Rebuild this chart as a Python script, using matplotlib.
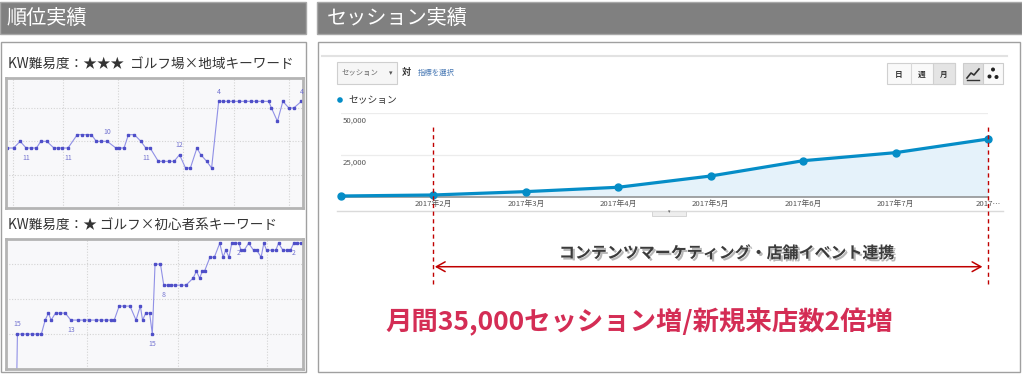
import matplotlib.pyplot as plt
from matplotlib.patches import Rectangle, Circle
import matplotlib.patheffects as pe

plt.rcParams['font.family'] = ['Noto Sans CJK JP', 'DejaVu Sans']

W, H = 1022, 375

# ---- 順位実績 (rank history, smaller rank = better) ----
kw1_title = 'KW難易度：★★★  ゴルフ場×地域キーワード'
kw1_days = [0.1, 1.4, 2.6, 3.7, 4.6, 5.6, 6.4, 7.5, 8.8, 9.5, 10.3, 11.4,
            13.1, 14.0, 14.8, 15.7, 16.6, 17.5, 18.6, 20.2, 20.8, 21.7, 22.5,
            23.6, 24.8, 25.7, 26.5, 28.0, 28.8, 29.9, 30.9, 31.9, 33.0, 33.9,
            35.1, 35.8, 36.9, 37.8, 39.1, 39.9, 40.9, 41.8, 42.8, 43.9, 45.0,
            45.9, 47.0, 48.3, 48.8, 49.9, 50.9, 52.0, 52.9, 54.3]
kw1_rank = [11, 11, 10, 11, 11, 11, 10, 10, 11, 11, 11, 11,
            9, 9, 9, 9, 10, 10, 10, 11, 11, 11, 9,
            9, 10, 11, 11, 13, 13, 13, 13, 12, 14, 14,
            11, 12, 13, 14, 4, 4, 4, 4, 4, 4, 4,
            4, 4, 4, 5, 7, 4, 5, 5, 4]
kw1_label_idx = [3, 11, 18, 25, 31, 38, 53]
kw1_label_above = [False, False, True, False, True, True, True]
kw1_vgrid = [1.3, 10.4, 20.6, 32.6, 41.9, 52.0]

kw2_title = 'KW難易度：★ ゴルフ×初心者系キーワード'
kw2_days = [1.9, 2.1, 2.9, 3.8, 4.8, 5.7, 6.5, 7.2, 7.8, 8.3, 9.1, 10.0,
            10.9, 11.9, 13.2, 14.3, 15.2, 16.5, 17.4, 18.3, 19.3, 19.9, 20.8,
            21.7, 22.8, 23.9, 24.7, 25.1, 25.7, 26.4, 26.9, 27.4, 28.4, 29.0,
            29.8, 30.4, 31.0, 32.2, 33.1, 34.4, 35.0, 35.6, 36.1, 36.5, 37.5,
            38.3, 39.3, 39.9, 40.4, 41.0, 41.5, 42.1, 42.8, 43.2, 43.8, 44.6,
            45.5, 46.1, 46.9, 47.4, 47.9, 48.9, 49.6, 50.1, 50.9, 51.7, 52.3,
            52.9, 53.5, 54.3]
kw2_rank = [25, 15, 15, 15, 15, 15, 15, 13, 12, 13, 12, 12,
            12, 13, 13, 13, 13, 13, 13, 13, 13, 13, 11,
            11, 11, 13, 11, 13, 12, 12, 15, 5, 5, 8,
            8, 8, 8, 8, 8, 7, 6, 7, 6, 6, 4,
            4, 2, 4, 3, 4, 2, 2, 2, 3, 3, 2,
            3, 3, 4, 2, 3, 3, 3, 2, 3, 3, 3,
            2, 2, 2]
kw2_label_idx = [1, 13, 30, 33, 52, 67]
kw2_label_above = [True, False, False, False, False, False]
kw2_vgrid = [14.8, 31.6, 48.0]

rank_grid = [5, 10, 15]

# ---- セッション実績 (monthly sessions, 2017) ----
months = [1, 2, 3, 4, 5, 6, 7, 8]
sessions = [600, 1200, 3200, 5800, 12500, 21600, 26400, 34500]
month_labels = ['2017年2月', '2017年3月', '2017年4月', '2017年5月',
                '2017年6月', '2017年7月', '2017…']
session_ticks = [25000, 50000]
event_start, event_end = 2, 8

fig = plt.figure(figsize=(W / 100, H / 100), dpi=100)


def px_axes(x0, y0, x1, y1, **kw):
    return fig.add_axes([x0 / W, 1 - y1 / H, (x1 - x0) / W, (y1 - y0) / H], **kw)


bg = px_axes(0, 0, W, H)
bg.set_xlim(0, W)
bg.set_ylim(H, 0)
bg.axis('off')

# header bars and panels
for x0, x1, tx, title in [(0, 306, 6, '順位実績'), (317, 1022, 10, 'セッション実績')]:
    bg.add_patch(Rectangle((x0, 1.5), x1 - x0, 32.5, fc='#808080', ec='#a8a8a8', lw=1))
    bg.text(x0 + tx, 18, title, color='white', fontsize=14.5, va='center')
bg.add_patch(Rectangle((0.5, 42), 305, 330, fc='white', ec='#a0a0a0', lw=1))
bg.add_patch(Rectangle((317.5, 42), 702, 330, fc='white', ec='#a0a0a0', lw=1))

bg.text(8, 64, kw1_title, fontsize=9.8, color='#333333', va='center')
bg.text(8, 225, kw2_title, fontsize=9.8, color='#333333', va='center')


def rank_chart(ax, days, rank, lab_idx, lab_above, vgrid, ylim):
    ax.set_facecolor('#f8f8fa')
    ax.plot(days, rank, color='#9090e6', lw=0.8, marker='s', ms=1.9,
            mfc='#4f4fc8', mec='#4f4fc8')
    for i, up in zip(lab_idx, lab_above):
        ax.annotate(str(rank[i]), (days[i], rank[i]), xytext=(0, 4 if up else -4),
                    textcoords='offset points', ha='center',
                    va='bottom' if up else 'top', fontsize=5, color='#7272d0')
    for r in rank_grid:
        ax.axhline(r, color='#d4d4d4', lw=0.8, ls=(0, (1, 1.5)), zorder=0)
    for d in vgrid:
        ax.axvline(d, color='#d4d4d4', lw=0.8, ls=(0, (1, 1.5)), zorder=0)
    ax.set_xlim(0, 54.6)
    ax.set_ylim(*ylim)
    ax.set_xticks([])
    ax.set_yticks([])
    for s in ax.spines.values():
        s.set_color('#b4b4b4')
        s.set_linewidth(2)


ax1 = px_axes(6, 78, 303, 208)
rank_chart(ax1, kw1_days, kw1_rank, kw1_label_idx, kw1_label_above, kw1_vgrid, (20.0, 0.5))
ax2 = px_axes(6, 239, 303, 369)
rank_chart(ax2, kw2_days, kw2_rank, kw2_label_idx, kw2_label_above, kw2_vgrid, (20.0, 1.4))

# ---- GA-style widgets ----
bg.plot([322, 1007], [56, 56], color='#e2e2e2', lw=1.5)
bg.add_patch(Rectangle((337, 62), 60, 22, fc='#f6f6f6', ec='#cfcfcf', lw=0.8))
bg.text(342, 73, 'セッション', fontsize=5.3, color='#666666', va='center')
bg.text(389, 73, '▾', fontsize=5, color='#555555', va='center')
bg.text(402, 72, '対', fontsize=6.5, color='#333333', va='center', fontweight='bold')
bg.text(418, 73, '指標を選択', fontsize=5.3, color='#4a7ab5', va='center')

bg.add_patch(Rectangle((887, 63), 68, 21, fc='#f9f9f9', ec='#d0d0d0', lw=0.8))
bg.add_patch(Rectangle((932.7, 63), 22.3, 21, fc='#e4e4e4', ec='#d0d0d0', lw=0.8))
bg.plot([910.7, 910.7], [63, 84], color='#d8d8d8', lw=0.8)
for bx, lab in [(899, '日'), (921.7, '週'), (944, '月')]:
    bg.text(bx, 74, lab, fontsize=5.5, color='#333333', ha='center', va='center',
            fontweight='bold')
bg.add_patch(Rectangle((963, 63), 20, 21, fc='#dedede', ec='#cccccc', lw=0.8))
bg.add_patch(Rectangle((983, 63), 20, 21, fc='#f9f9f9', ec='#cccccc', lw=0.8))
bg.plot([967, 971, 974, 979], [78, 73, 75, 69], color='#333333', lw=1.2)
bg.plot([967, 979], [79.5, 79.5], color='#333333', lw=1)
for cx, cy in [(993, 69.5), (989.5, 76.5), (996.5, 77)]:
    bg.add_patch(Circle((cx, cy), 2, fc='#222222', ec='none'))

bg.add_patch(Circle((340, 100), 2.8, fc='#058dc7', ec='none'))
bg.text(348, 100, 'セッション', fontsize=7, color='#333333', va='center')

bg.plot([337, 1003], [210.5, 210.5], color='#dadada', lw=1)
bg.add_patch(Rectangle((652, 210.5), 34, 5, fc='#eeeeee', ec='#cfcfcf', lw=0.6))
bg.text(669, 212, '▾', fontsize=3.5, color='#666666', ha='center', va='center')

# ---- session chart ----
ga = px_axes(341, 113, 988, 197)
ga.patch.set_alpha(0)
ga.fill_between(months, sessions, 0, color='#e5f2fa', lw=0)
ga.plot(months, sessions, color='#058dc7', lw=2.3, marker='o', ms=5, clip_on=False, zorder=4)
for t in session_ticks:
    ga.axhline(t, color='#ececec', lw=0.9, zorder=0, xmin=-0.002)
    ga.annotate(f'{t:,}', (0, t), xycoords=('axes fraction', 'data'), xytext=(1.5, -2.5),
                textcoords='offset points', fontsize=5.6, color='#555555', va='top')
ga.axhline(0, color='#8c8c8c', lw=1.1, zorder=3, clip_on=False)
ga.set_xlim(1, 8)
ga.set_ylim(0, 50000)
ga.set_xticks(months[1:])
ga.set_xticklabels(month_labels)
ga.set_yticks([])
ga.tick_params(axis='x', length=0, pad=2.2, labelsize=5.6, labelcolor='#555555')
for s in ga.spines.values():
    s.set_visible(False)

# event period: dashed markers and arrow
for m in (event_start, event_end):
    ga.axvline(m, ymin=-1.04, ymax=0.83, color='#c00000', lw=1, ls=(0, (3, 2.5)),
               clip_on=False, zorder=5)
ga.annotate('', xy=(event_end, -0.83), xytext=(event_start, -0.83),
            xycoords=('data', 'axes fraction'), textcoords=('data', 'axes fraction'),
            arrowprops=dict(arrowstyle='<->, head_length=0.45, head_width=0.25',
                            color='#c00000', lw=1.1, shrinkA=1, shrinkB=4,
                            mutation_scale=14))

bg.text(727, 253, 'コンテンツマーケティング・店舗イベント連携', fontsize=11.5,
        fontweight='bold', color='#3c3c3c', ha='center', va='center',
        path_effects=[pe.withSimplePatchShadow(offset=(1.5, -1.5), shadow_rgbFace='#888888',
                                               alpha=0.6)])
bg.text(639, 322, '月間35,000セッション増/新規来店数2倍増', fontsize=19,
        fontweight='bold', color='#d42d55', ha='center', va='center')

fig.savefig('out.png', dpi=100)
